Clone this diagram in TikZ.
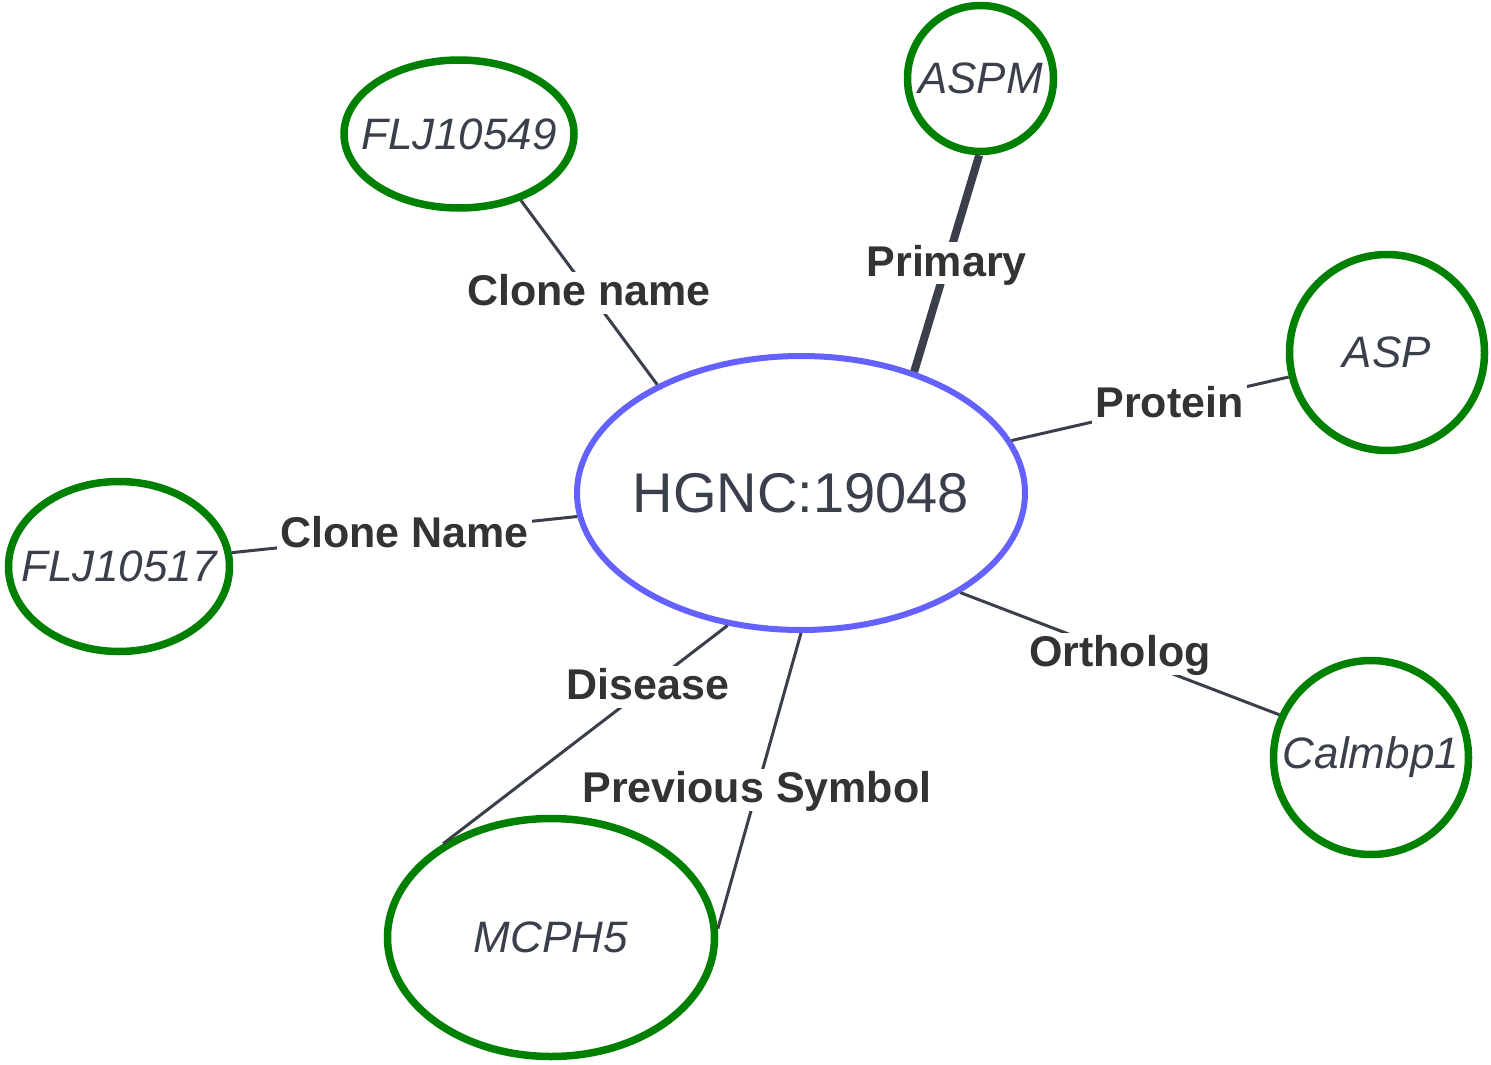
\documentclass[tikz,border=0pt]{standalone}
\usepackage{fontspec}
\setmainfont{Liberation Sans}
\usepackage{tikz}
\usetikzlibrary{shapes.geometric}
\definecolor{verde}{RGB}{0,128,0}
\definecolor{azul}{RGB}{100,97,255}
\definecolor{gris}{RGB}{58,63,75}
\definecolor{texto}{RGB}{51,51,51}

% texto sin ancho, para que no agrande la elipse
\newcommand{\etq}[1]{\makebox[0pt]{#1}}

\begin{document}
\begin{tikzpicture}[x=1pt,y=-1pt,
  gen/.style={ellipse, draw=verde, line width=7.5pt, inner sep=0pt,
    text=gris, font=\fontsize{44}{52}\selectfont\itshape},
  centro/.style={ellipse, draw=azul, line width=6pt, inner sep=0pt,
    text=gris, font=\fontsize{56}{68}\selectfont},
  arista/.style={draw=gris, line width=3pt},
  rel/.style={fill=white, inner sep=3pt, text=texto, text height=31pt, text depth=5pt,
    font=\fontsize{43}{50}\selectfont\bfseries}]
  \useasboundingbox (0,0) rectangle (1491,1065);

  % Nodo central
  \node[centro, minimum width=448pt, minimum height=274pt] (hgnc) at (801,493) {\etq{HGNC:19048}};

  % Simbolos
  \node[gen, minimum width=230pt, minimum height=148pt] (flj549) at (459,134) {\etq{FLJ10549}};
  \node[gen, minimum width=146pt, minimum height=146pt] (aspm) at (980.5,78.5) {\etq{ASPM}};
  \node[gen, minimum width=195pt, minimum height=196pt] (asp) at (1387,352.5) {\etq{ASP}};
  \node[gen, minimum width=221pt, minimum height=170pt] (flj517) at (119,566.5) {\etq{FLJ10517}};
  \node[gen, minimum width=195pt, minimum height=194pt] (calm) at (1371,757.5) {\etq{Calmbp1}};
  \node[gen, minimum width=327pt, minimum height=238pt] (mcph) at (551,937.5) {\etq{MCPH5}};

  % Relaciones
  \draw[arista] (hgnc.143) -- node[rel] {Clone name} (flj549.313);
  \draw[arista, line width=8pt] (hgnc.47) -- node[rel] {Primary} (aspm.269);
  \draw[arista] (hgnc.14) -- node[rel, pos=0.57] {Protein} (asp.194);
  \draw[arista] (hgnc.186) -- node[rel] {Clone Name} (flj517.7.5);
  \draw[arista] (hgnc.328) -- node[rel] {Ortholog} (calm.155);
  \draw[arista] (hgnc.241) -- node[rel, pos=0.28] {Disease} (mcph.139);
  \draw[arista] (hgnc.270) -- node[rel, pos=0.53] {Previous Symbol} (mcph.3);
\end{tikzpicture}
\end{document}
